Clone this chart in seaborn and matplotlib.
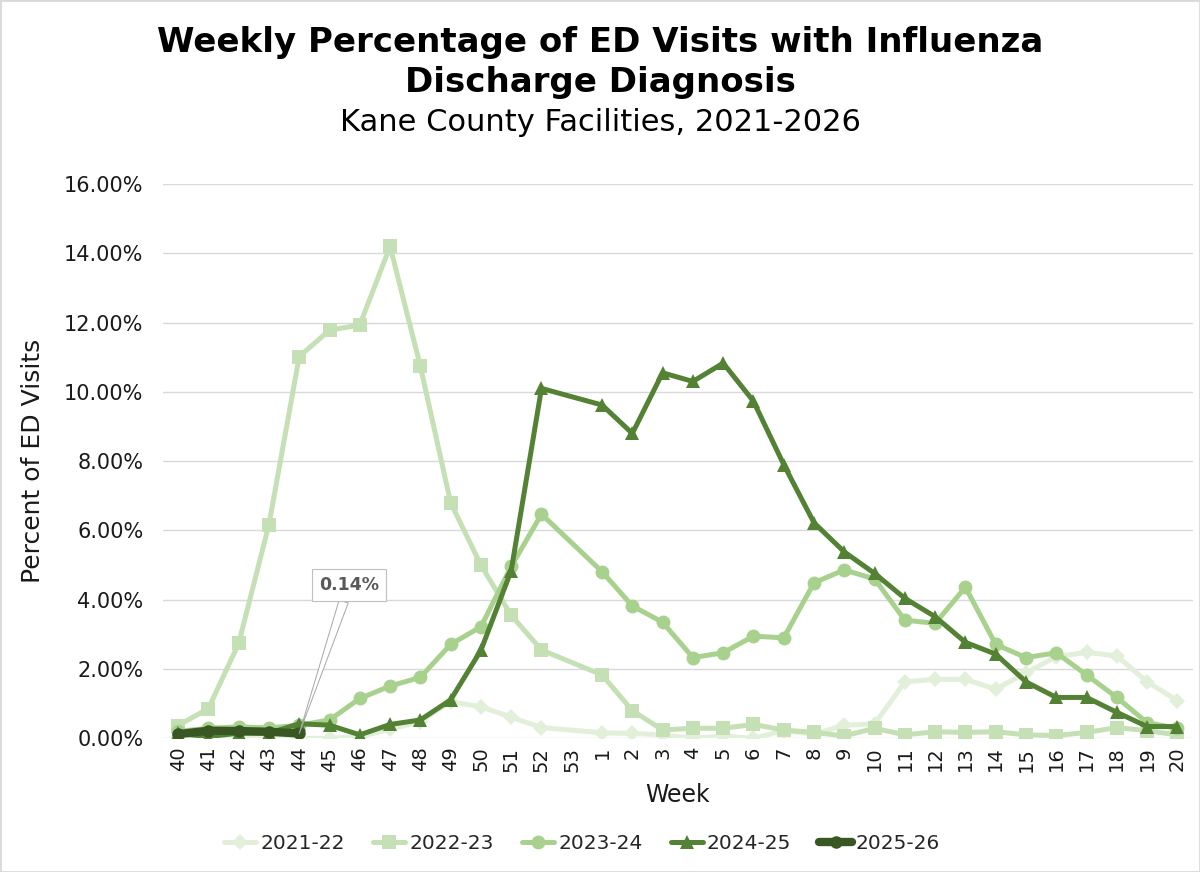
import numpy as np
import pandas as pd
import seaborn as sns
import matplotlib.pyplot as plt
from matplotlib.patches import Rectangle
from matplotlib.ticker import FuncFormatter

nan = np.nan

weeks = [str(w) for w in range(40, 54)] + [str(w) for w in range(1, 21)]

# percent of ED visits, week 53 missing for every season
season_2021 = [0.05, 0.08, 0.06, 0.03, 0.00, 0.00, 0.05, 0.26, 0.48, 1.06, 0.91, 0.61, 0.31, nan,
               0.16, 0.14, 0.10, 0.00, 0.07, 0.00, 0.22, 0.12, 0.38, 0.41, 1.63, 1.70, 1.70, 1.42,
               1.89, 2.36, 2.48, 2.38, 1.63, 1.09]
season_2022 = [0.37, 0.86, 2.74, 6.17, 11.02, 11.78, 11.93, 14.20, 10.74, 6.80, 5.00, 3.55, 2.55, nan,
               1.83, 0.80, 0.24, 0.29, 0.29, 0.40, 0.24, 0.17, 0.07, 0.29, 0.10, 0.19, 0.17, 0.19,
               0.10, 0.08, 0.17, 0.31, 0.22, 0.10]
season_2023 = [0.20, 0.29, 0.33, 0.30, 0.38, 0.53, 1.15, 1.51, 1.76, 2.71, 3.22, 4.96, 6.47, nan,
               4.81, 3.82, 3.35, 2.33, 2.47, 2.95, 2.90, 4.49, 4.86, 4.60, 3.41, 3.32, 4.36, 2.71,
               2.33, 2.47, 1.83, 1.18, 0.45, 0.29]
season_2024 = [0.14, 0.05, 0.15, 0.15, 0.42, 0.38, 0.10, 0.40, 0.53, 1.11, 2.54, 4.84, 10.10, nan,
               9.62, 8.80, 10.55, 10.30, 10.83, 9.73, 7.90, 6.22, 5.38, 4.76, 4.04, 3.51, 2.77, 2.43,
               1.63, 1.18, 1.18, 0.75, 0.34, 0.34]
season_2025 = [0.12, 0.22, 0.21, 0.19, 0.14] + [nan] * 29

seasons = ['2021-22', '2022-23', '2023-24', '2024-25', '2025-26']
series = [season_2021, season_2022, season_2023, season_2024, season_2025]
colors = ['#e2f0d9', '#c5e0b4', '#a9d18e', '#548235', '#385723']
markers = ['D', 's', 'o', '^', 'o']
widths = [3.6, 3.6, 3.6, 3.6, 6.0]
msizes = [8.5, 10, 10, 10, 9]

sns.set_theme(style='white')
plt.rcParams['font.family'] = ['DejaVu Sans']
ink = '#1a1a1a'

fig = plt.figure(figsize=(12, 8.72), dpi=100)
ax = fig.add_axes([0.1358, 0.1533, 0.858, 0.6357])

pos = np.arange(len(weeks))
for name, vals, c, m, lw, ms in zip(seasons, series, colors, markers, widths, msizes):
    df = pd.DataFrame({'pos': pos, 'pct': vals})
    sns.lineplot(data=df, x='pos', y='pct', ax=ax, color=c, marker=m, markersize=ms,
                 linewidth=lw, markeredgewidth=0, label=name, errorbar=None)

last = np.flatnonzero(~np.isnan(season_2025))[-1]
ax.annotate('{:.2f}%'.format(season_2025[last]), xy=(pos[last], season_2025[last]),
            xytext=(5.65, 4.42), ha='center', va='center', fontsize=12.5, fontweight='bold',
            color='#595959',
            bbox=dict(boxstyle='square,pad=0.4', fc='white', ec='#bfbfbf', lw=0.8),
            arrowprops=dict(arrowstyle='wedge,tail_width=0.55,shrink_factor=0.5', fc='white',
                            ec='#a6a6a6', lw=0.7, shrinkA=0, shrinkB=0),
            zorder=10)

ax.set_xlim(-0.5, len(weeks) - 0.5)
ax.set_ylim(0, 16)
ax.set_yticks(np.arange(0, 17, 2))
ax.yaxis.set_major_formatter(FuncFormatter(lambda v, p: '{:.2f}%'.format(v)))
ax.set_xticks(pos)
ax.set_xticklabels(weeks, rotation=90)
ax.tick_params(axis='x', length=0, labelsize=14, colors=ink, pad=6)
ax.tick_params(axis='y', length=0, labelsize=15, colors=ink, pad=14)
ax.grid(axis='y', color='#d9d9d9', lw=1)
for s in ax.spines.values():
    s.set_visible(False)

ax.set_xlabel('Week', fontsize=17, color=ink, labelpad=8)
ax.set_ylabel('Percent of ED Visits', fontsize=18, color=ink, labelpad=14)

handles, labels = ax.get_legend_handles_labels()
ax.get_legend().remove()
fig.legend(handles, labels, loc='center', bbox_to_anchor=(0.485, 0.033), ncol=5, frameon=False,
           fontsize=14.5, handlelength=1.6, columnspacing=1.4, handletextpad=0.2)

fig.text(0.5, 0.951, 'Weekly Percentage of ED Visits with Influenza', ha='center', va='center',
         fontsize=24.5, fontweight='bold', color='black')
fig.text(0.5, 0.905, 'Discharge Diagnosis', ha='center', va='center', fontsize=24.5,
         fontweight='bold', color='black')
fig.text(0.5, 0.859, 'Kane County Facilities, 2021-2026', ha='center', va='center', fontsize=22,
         color='black')

fig.patches.append(Rectangle((0, 0), 1, 1, transform=fig.transFigure, fill=False,
                             ec='#d9d9d9', lw=2))

fig.savefig('out.png', dpi=100)
